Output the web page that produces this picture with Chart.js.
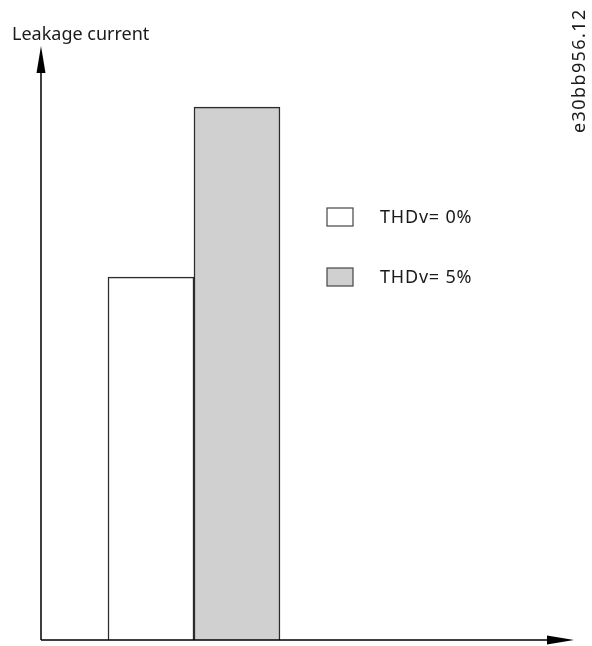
<!DOCTYPE html>
<html lang="en">
<head>
<meta charset="UTF-8">
<title>Leakage current - THDv</title>
<script src="https://cdn.jsdelivr.net/npm/chart.js"></script>
<style>
  html, body { margin: 0; padding: 0; background: #fff; }
  .chart-box { position: relative; width: 592px; height: 646px; }
</style>
</head>
<body>
<div class="chart-box"><canvas id="leakage"></canvas></div>
<script>
// data (relative leakage, axis top = 1)
const series = ['THDv= 0%', 'THDv= 5%'];
const leakage = [0.611, 0.897];
const yTitle = 'Leakage current';
const figId = 'e30bb956.12';

const fills = ['#ffffff', '#d0d0d0'];
const edge = '#2b2b2b';
const font = '"Noto Sans", "Open Sans", sans-serif';

// axes with arrow heads, axis title, legend and drawing id
const drawingBits = {
  id: 'drawingBits',
  afterDatasetsDraw(chart) {
    const { ctx, chartArea: a } = chart;
    ctx.save();
    ctx.strokeStyle = '#000';
    ctx.fillStyle = '#000';
    ctx.lineWidth = 1.5;
    ctx.beginPath();
    ctx.moveTo(a.left, a.bottom); ctx.lineTo(a.left, a.top + 20);
    ctx.moveTo(a.left, a.bottom); ctx.lineTo(a.right - 20, a.bottom);
    ctx.stroke();
    ctx.beginPath();
    ctx.moveTo(a.left, a.top);
    ctx.lineTo(a.left - 4.5, a.top + 27);
    ctx.lineTo(a.left + 4.5, a.top + 27);
    ctx.closePath(); ctx.fill();
    ctx.beginPath();
    ctx.moveTo(a.right, a.bottom);
    ctx.lineTo(a.right - 27, a.bottom - 4.5);
    ctx.lineTo(a.right - 27, a.bottom + 4.5);
    ctx.closePath(); ctx.fill();

    ctx.fillStyle = '#1a1a1a';
    ctx.font = '18px ' + font;
    ctx.textBaseline = 'alphabetic';
    ctx.fillText(yTitle, 12, 40);

    // legend
    chart.data.datasets.forEach((ds, i) => {
      const y = 208 + i * 60;
      ctx.fillStyle = ds.backgroundColor;
      ctx.fillRect(327, y, 26, 18);
      ctx.lineWidth = 1.2;
      ctx.strokeStyle = '#444';
      ctx.strokeRect(327, y, 26, 18);
      ctx.fillStyle = '#1a1a1a';
      ctx.letterSpacing = '0.8px';
      ctx.fillText(ds.label, 380, y + 15);
    });

    ctx.translate(585, 133);
    ctx.rotate(-Math.PI / 2);
    ctx.letterSpacing = '1.4px';
    ctx.fillText(figId, 0, 0);
    ctx.restore();
  }
};

new Chart(document.getElementById('leakage'), {
  type: 'bar',
  data: {
    datasets: series.map((name, i) => ({
      label: name,
      data: [{ x: i, y: leakage[i] }],
      backgroundColor: fills[i],
      borderColor: edge,
      borderWidth: 1.5,
      grouped: false,
      categoryPercentage: 1,
      barPercentage: 1
    }))
  },
  options: {
    responsive: true,
    maintainAspectRatio: false,
    animation: false,
    layout: { padding: { left: 41, top: 46, right: 18, bottom: 6 } },
    plugins: { legend: { display: false }, tooltip: { enabled: false } },
    scales: {
      x: { type: 'linear', display: false, offset: false, min: -1.279, max: 4.919,
           ticks: { stepSize: 1, includeBounds: false } },
      y: { display: false, min: 0, max: 1 }
    }
  },
  plugins: [drawingBits]
});
</script>
</body>
</html>
